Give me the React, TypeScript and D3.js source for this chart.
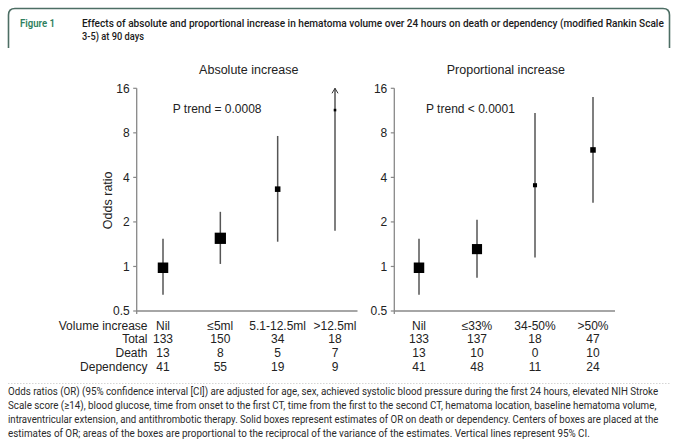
import React, { useLayoutEffect, useRef, useState } from "react";
import * as d3 from "d3";

// ---- Data ----
const absCategories = ["Nil", "≤5ml", "5.1-12.5ml", ">12.5ml"];
const absOR = [0.98, 1.55, 3.33, 11.4];
const absLo = [0.645, 1.04, 1.47, 1.74];
const absHi = [1.54, 2.34, 7.62, 60];
const absTotal = [133, 150, 34, 18];
const absDeath = [13, 8, 5, 7];
const absDependency = [41, 55, 19, 9];

const propCategories = ["Nil", "≤33%", "34-50%", ">50%"];
const propOR = [0.98, 1.31, 3.54, 6.13];
const propLo = [0.645, 0.84, 1.15, 2.7];
const propHi = [1.54, 2.07, 10.9, 14.0];
const propTotal = [133, 137, 18, 47];
const propDeath = [13, 10, 0, 10];
const propDependency = [41, 48, 11, 24];

const yTicks = [0.5, 1, 2, 4, 8, 16];
const rowLabels = ["Volume increase", "Total", "Death", "Dependency"];

const headerLine1 =
  "Effects of absolute and proportional increase in hematoma volume over 24 hours on death or dependency (modified Rankin Scale";
const headerLine2 = "3-5) at 90 days";
const footerLines = [
  "Odds ratios (OR) (95% confidence interval [CI]) are adjusted for age, sex, achieved systolic blood pressure during the first 24 hours, elevated NIH Stroke",
  "Scale score (≥14), blood glucose, time from onset to the first CT, time from the first to the second CT, hematoma location, baseline hematoma volume,",
  "intraventricular extension, and antithrombotic therapy. Solid boxes represent estimates of OR on death or dependency. Centers of boxes are placed at the",
  "estimates of OR; areas of the boxes are proportional to the reciprocal of the variance of the estimates. Vertical lines represent 95% CI.",
];
const footerWidths = [651, 649, 651, 582];

const W = 679;
const H = 442;
const FONT = "'Liberation Sans', Arial, sans-serif";
const CAPFONT = "Roboto, 'Noto Sans', sans-serif";

const y = d3.scaleLog().base(2).domain([0.5, 16]).range([311, 88.3]);

// Text horizontally scaled so its rendered width equals `width`
function FitText(props: {
  x: number;
  y: number;
  width: number;
  size: number;
  weight?: number;
  fill: string;
  children: string;
}) {
  const ref = useRef<SVGTextElement>(null);
  const [sx, setSx] = useState(1);
  useLayoutEffect(() => {
    if (ref.current) {
      const w = ref.current.getComputedTextLength();
      if (w > 0) setSx(props.width / w);
    }
  }, [props.children, props.width]);
  return (
    <text
      ref={ref}
      transform={`translate(${props.x},${props.y}) scale(${sx},1)`}
      fontFamily={CAPFONT}
      fontSize={props.size}
      fontWeight={props.weight ?? 400}
      fill={props.fill}
    >
      {props.children}
    </text>
  );
}

type PanelProps = {
  axisX: number;
  axisEnd: number;
  xRange: [number, number];
  cats: string[];
  or: number[];
  lo: number[];
  hi: number[];
  title: string;
  titleX: number;
  ptext: string;
  ptextX: number;
  table: number[][];
};

const rowY = [329.5, 343.3, 357.3, 371.3];

function Panel(p: PanelProps) {
  const x = d3.scalePoint<string>().domain(p.cats).range(p.xRange).padding(0);
  const [dMin, dMax] = y.domain();
  const k = 2.33;
  return (
    <g>
      <text x={p.titleX} y={73.5} textAnchor="middle" fontFamily={FONT} fontSize={12.5} fill="#222">
        {p.title}
      </text>
      <text x={p.ptextX} y={113.2} fontFamily={FONT} fontSize={12} fill="#222">
        {p.ptext}
      </text>
      <line x1={p.axisX} x2={p.axisX} y1={y(16)} y2={y(0.5) + 3} stroke="#888" strokeWidth={1.3} />
      <line x1={p.axisX} x2={p.axisEnd} y1={y(0.5)} y2={y(0.5)} stroke="#888" strokeWidth={1.3} />
      {yTicks.map((t) => (
        <g key={t}>
          <line x1={p.axisX - 3.5} x2={p.axisX} y1={y(t)} y2={y(t)} stroke="#888" strokeWidth={1.2} />
          <text x={p.axisX - 7} y={y(t) + 4.3} textAnchor="end" fontFamily={FONT} fontSize={12} fill="#222">
            {t}
          </text>
        </g>
      ))}
      {p.cats.map((c, i) => {
        const cx = x(c) as number;
        const top = Math.min(p.hi[i], dMax);
        const bot = Math.max(p.lo[i], dMin);
        const se = (Math.log(p.hi[i]) - Math.log(p.lo[i])) / 3.92;
        const side = k * Math.sqrt(1 / (se * se));
        const arrow = p.hi[i] > dMax;
        return (
          <g key={c}>
            <line x1={cx} x2={cx} y1={y(top)} y2={y(bot)} stroke="#555" strokeWidth={1.5} />
            {arrow && (
              <path
                d={`M${cx - 3},${y(top) + 5} L${cx},${y(top)} L${cx + 3},${y(top) + 5}`}
                fill="none"
                stroke="#333"
                strokeWidth={1}
              />
            )}
            <rect x={cx - side / 2} y={y(p.or[i]) - side / 2} width={side} height={side} fill="#000" />
          </g>
        );
      })}
      {p.table.map((row, r) =>
        row.map((v, i) => (
          <text
            key={`${r}-${i}`}
            x={x(p.cats[i]) as number}
            y={rowY[r]}
            textAnchor="middle"
            fontFamily={FONT}
            fontSize={12}
            fill="#222"
          >
            {r === 0 ? p.cats[i] : v}
          </text>
        ))
      )}
    </g>
  );
}

export default function App() {
  return (
    <svg
      width={W}
      height={H}
      viewBox={`0 0 ${W} ${H}`}
      style={{ position: "absolute", left: 0, top: 0, background: "#fff" }}
    >
      <rect width={W} height={H} fill="#fff" />
      <path
        d="M8.5,48 L8.5,15 Q8.5,8.5 15,8.5 L663,8.5 Q669.5,8.5 669.5,15 L669.5,48"
        fill="none"
        stroke="#4d6e64"
        strokeWidth={1.6}
      />
      <FitText x={20} y={27.2} width={35} size={10.6} weight={600} fill="#2f7f5e">
        Figure 1
      </FitText>
      <FitText x={82} y={27.2} width={582} size={10.6} weight={500} fill="#1a1a1a">
        {headerLine1}
      </FitText>
      <FitText x={82} y={39.5} width={62} size={10.6} weight={500} fill="#1a1a1a">
        {headerLine2}
      </FitText>

      <text
        transform={`translate(111.5,${y(2.8)}) rotate(-90)`}
        textAnchor="middle"
        fontFamily={FONT}
        fontSize={12.5}
        fill="#222"
      >
        Odds ratio
      </text>

      <Panel
        axisX={136.7}
        axisEnd={357.5}
        xRange={[163, 335]}
        cats={absCategories}
        or={absOR}
        lo={absLo}
        hi={absHi}
        title="Absolute increase"
        titleX={248.8}
        ptext="P trend = 0.0008"
        ptextX={172.7}
        table={[absTotal, absTotal, absDeath, absDependency]}
      />
      <Panel
        axisX={394.3}
        axisEnd={615}
        xRange={[419, 593]}
        cats={propCategories}
        or={propOR}
        lo={propLo}
        hi={propHi}
        title="Proportional increase"
        titleX={505.8}
        ptext="P trend < 0.0001"
        ptextX={426}
        table={[propTotal, propTotal, propDeath, propDependency]}
      />

      {rowLabels.map((l, i) => (
        <text key={l} x={147.5} y={rowY[i]} textAnchor="end" fontFamily={FONT} fontSize={12} fill="#222">
          {l}
        </text>
      ))}

      <line x1={8} x2={671} y1={383.5} y2={383.5} stroke="#d5d5d5" strokeWidth={1} strokeDasharray="1.5,1.5" />

      {footerLines.map((l, i) => (
        <FitText key={i} x={8} y={395.2 + i * 14} width={footerWidths[i]} size={11} fill="#2a2a2a">
          {l}
        </FitText>
      ))}
    </svg>
  );
}
